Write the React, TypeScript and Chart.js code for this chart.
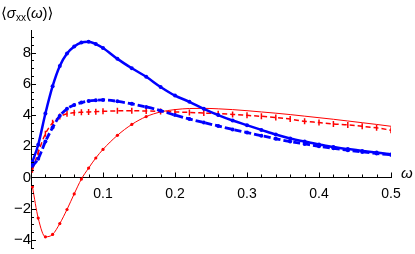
import React, { useEffect, useRef } from "react";
import { Chart, registerables } from "chart.js";

Chart.register(...registerables);

// ω values shared by all series
const omega = [
  0.002, 0.01, 0.02, 0.03, 0.04, 0.05, 0.06, 0.07, 0.08, 0.09, 0.1,
  0.12, 0.14, 0.16, 0.18, 0.2, 0.22, 0.24, 0.26, 0.28, 0.3,
  0.32, 0.34, 0.36, 0.38, 0.4, 0.42, 0.44, 0.46, 0.48, 0.5,
];

const blueSolid = [
  1.0, 2.1, 4.1, 5.85, 7.15, 7.95, 8.4, 8.65, 8.7, 8.55, 8.3,
  7.6, 7.0, 6.45, 5.8, 5.25, 4.85, 4.4, 4.0, 3.65, 3.35,
  3.05, 2.75, 2.5, 2.3, 2.12, 1.95, 1.82, 1.7, 1.6, 1.48,
];

const blueDashed = [
  0.75, 1.2, 2.3, 3.2, 3.95, 4.4, 4.65, 4.8, 4.9, 4.95, 4.97,
  4.88, 4.72, 4.52, 4.28, 4.0, 3.75, 3.52, 3.3, 3.08, 2.88,
  2.68, 2.48, 2.3, 2.15, 2.0, 1.87, 1.75, 1.64, 1.54, 1.45,
];

const redThin = [
  -0.6, -2.6, -3.8, -3.65, -2.95, -2.05, -1.05, -0.1, 0.6, 1.25, 1.8,
  2.7, 3.4, 3.9, 4.2, 4.35, 4.42, 4.43, 4.4, 4.35, 4.28,
  4.2, 4.12, 4.03, 3.93, 3.83, 3.73, 3.62, 3.51, 3.4, 3.28,
];

const redDashed = [
  0.5, 1.6, 2.8, 3.5, 3.9, 4.08, 4.15, 4.18, 4.2, 4.22, 4.24,
  4.27, 4.28, 4.26, 4.23, 4.2, 4.17, 4.13, 4.09, 4.04, 3.98,
  3.92, 3.84, 3.74, 3.6, 3.52, 3.43, 3.37, 3.28, 3.18, 3.03,
];

const xLabelledTicks = [0.1, 0.2, 0.3, 0.4, 0.5];
const yLabelledTicks = [-4, -2, 0, 2, 4, 6, 8];
const xMinorStep = 0.02;
const yMinorStep = 0.5;
const xRange = [0, 0.5];
const yRange = [-4.55, 9.45];

const FONT = '"Liberation Sans", Arial, "DejaVu Sans", sans-serif';

const toPoints = (ys: number[]) => omega.map((x, i) => ({ x, y: ys[i] }));

const near = (a: number, b: number) => Math.abs(a - b) < 1e-6;

const axisDecor = {
  id: "axisDecor",
  afterDraw(chart: any) {
    const { ctx, scales } = chart;
    const xs = scales.x;
    const ys = scales.y;
    const x0 = xs.getPixelForValue(0);
    const y0 = ys.getPixelForValue(0);
    ctx.save();
    ctx.strokeStyle = "#000";
    ctx.lineWidth = 1;
    ctx.beginPath();
    for (const t of ys.ticks) {
      const py = Math.round(ys.getPixelForValue(t.value)) + 0.5;
      const major = yLabelledTicks.some((v) => near(v, t.value));
      ctx.moveTo(x0, py);
      ctx.lineTo(x0 + (major ? 5 : 3), py);
    }
    for (const t of xs.ticks) {
      if (near(t.value, 0)) continue;
      const px = Math.round(xs.getPixelForValue(t.value)) + 0.5;
      const major = xLabelledTicks.some((v) => near(v, t.value));
      ctx.moveTo(px, y0);
      ctx.lineTo(px, y0 - (major ? 5 : 3));
    }
    ctx.stroke();

    // title ⟨σxx(ω)⟩
    ctx.fillStyle = "#000";
    ctx.textBaseline = "alphabetic";
    let cx = 1;
    const base = 18;
    const put = (s: string, font: string, dy = 0) => {
      ctx.font = font;
      ctx.fillText(s, cx, base + dy);
      cx += ctx.measureText(s).width;
    };
    put("\u27E8", `15px ${FONT}`);
    put("\u03C3", `italic 15px ${FONT}`);
    put("xx", `10px ${FONT}`, 3);
    put("(", `15px ${FONT}`);
    put("\u03C9", `italic 15px ${FONT}`);
    put(")", `15px ${FONT}`);
    put("\u27E9", `15px ${FONT}`);

    // axis label ω
    ctx.font = `italic 15px ${FONT}`;
    ctx.fillText("\u03C9", 401, 178);
    ctx.restore();
  },
};

export default function App() {
  const ref = useRef<HTMLCanvasElement | null>(null);

  useEffect(() => {
    if (!ref.current) return;
    const chart = new Chart(ref.current, {
      type: "line",
      data: {
        datasets: [
          {
            data: toPoints(blueSolid),
            borderColor: "#0000ff",
            backgroundColor: "#0000ff",
            borderWidth: 2.5,
            pointRadius: 2,
            pointBorderWidth: 0,
            cubicInterpolationMode: "monotone",
          },
          {
            data: toPoints(blueDashed),
            borderColor: "#0000ff",
            backgroundColor: "#0000ff",
            borderWidth: 2.8,
            borderDash: [7, 3],
            pointRadius: 2,
            pointBorderWidth: 0,
            cubicInterpolationMode: "monotone",
          },
          {
            data: toPoints(redThin),
            borderColor: "#ff0000",
            backgroundColor: "#ff0000",
            borderWidth: 1,
            pointRadius: (c: any) => (c.raw && c.raw.x <= 0.16 ? 1.6 : 0),
            pointBorderWidth: 0,
            cubicInterpolationMode: "monotone",
          },
          {
            data: toPoints(redDashed),
            borderColor: "#ff0000",
            backgroundColor: "#ff0000",
            borderWidth: 1.5,
            borderDash: [5, 3],
            pointStyle: "line",
            rotation: 90,
            pointRadius: 3,
            pointBorderWidth: 1.5,
            cubicInterpolationMode: "monotone",
          },
        ],
      },
      options: {
        animation: false,
        responsive: false,
        devicePixelRatio: 1,
        layout: { padding: { left: 31, right: 24, top: 30, bottom: 3 } },
        plugins: {
          legend: { display: false },
          tooltip: { enabled: false },
          title: { display: false },
        },
        scales: {
          x: {
            type: "linear",
            position: { y: 0 } as any,
            min: xRange[0],
            max: xRange[1],
            afterBuildTicks: (s: any) => {
              const n = Math.round((xRange[1] - xRange[0]) / xMinorStep);
              s.ticks = Array.from({ length: n + 1 }, (_, i) => ({
                value: +(xRange[0] + i * xMinorStep).toFixed(4),
              }));
            },
            afterFit: (s: any) => {
              s.paddingLeft = 0;
              s.paddingRight = 0;
            },
            grid: { display: false, drawTicks: false },
            border: { display: true, color: "#000", width: 1 },
            ticks: {
              autoSkip: false,
              maxRotation: 0,
              padding: 8,
              color: "#000",
              font: { family: FONT, size: 14 },
              callback: (v: any) =>
                xLabelledTicks.some((t) => near(t, Number(v))) ? Number(v).toFixed(1) : "",
            },
          },
          y: {
            type: "linear",
            position: { x: 0 } as any,
            min: yRange[0],
            max: yRange[1],
            afterBuildTicks: (s: any) => {
              const start = Math.ceil(yRange[0] / yMinorStep);
              const end = Math.floor(yRange[1] / yMinorStep);
              const arr = [];
              for (let i = start; i <= end; i++) arr.push({ value: i * yMinorStep });
              s.ticks = arr;
            },
            afterFit: (s: any) => {
              s.paddingTop = 0;
              s.paddingBottom = 0;
            },
            grid: { display: false, drawTicks: false },
            border: { display: true, color: "#000", width: 1 },
            ticks: {
              autoSkip: false,
              padding: 4,
              color: "#000",
              font: { family: FONT, size: 15 },
              callback: (v: any) =>
                yLabelledTicks.some((t) => near(t, Number(v)))
                  ? String(Number(v)).replace("-", "\u2212")
                  : "",
            },
          },
        },
      },
      plugins: [axisDecor],
    });
    return () => chart.destroy();
  }, []);

  return (
    <div style={{ position: "absolute", left: 0, top: 0, width: 415, height: 254 }}>
      <canvas ref={ref} width={415} height={254} style={{ width: 415, height: 254 }} />
    </div>
  );
}
